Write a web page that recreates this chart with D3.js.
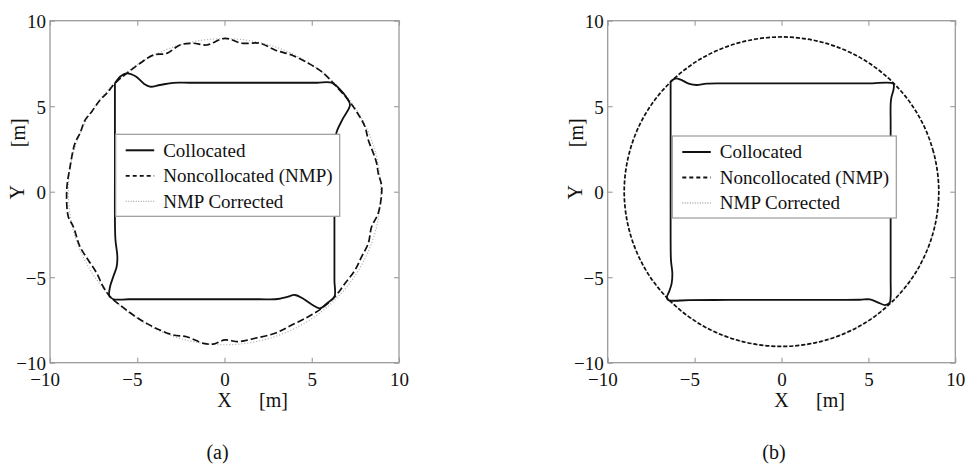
<!DOCTYPE html>
<html><head><meta charset="utf-8">
<script src="https://cdn.jsdelivr.net/npm/d3@7"></script>
<style>
body{margin:0;background:#fff}
svg text{font-family:"Liberation Serif","Times New Roman",Times,"DejaVu Serif",serif !important;fill:#111}
</style>
</head><body>
<svg id="c" width="966" height="464"></svg>
<script>
// ---- data ----
const xTicks = [-10, -5, 0, 5, 10];
const yTicks = [-10, -5, 0, 5, 10];
const legendLabels = ["Collocated", "Noncollocated (NMP)", "NMP Corrected"];
const panelLabels = ["(a)", "(b)"];

const collocatedA = [
  [-6.28,6.34],[-5.95,6.75],[-5.6,6.92],[-5.1,6.75],[-4.6,6.3],[-4.27,6.14],[-3.7,6.24],[-2.93,6.37],
  [-2.0,6.37],[0,6.37],[2.0,6.37],[4.0,6.37],[5.3,6.37],
  [6.14,6.37],[6.6,6.0],[7.0,5.5],[7.19,5.07],[6.8,4.3],[6.43,3.51],[6.30,2.8],[6.30,1.5],[6.30,-1.0],
  [6.30,-3.5],[6.30,-5.2],[6.30,-6.14],
  [5.9,-6.5],[5.47,-6.82],[5.0,-6.6],[4.5,-6.25],[4.04,-6.04],[3.6,-6.15],[3.28,-6.23],[2.89,-6.29],
  [2.0,-6.29],[0,-6.29],[-2.0,-6.29],[-4.0,-6.29],[-5.5,-6.29],
  [-6.37,-6.29],[-6.60,-6.10],[-6.56,-5.56],[-6.35,-4.9],[-6.18,-4.39],[-6.14,-3.80],[-6.25,-2.8],
  [-6.28,-1.5],[-6.28,1.0],[-6.28,3.5],[-6.28,5.3],[-6.28,6.34]
];
const noncollocatedA = [
  [0.03,8.97],[0.99,8.68],[2.03,8.68],[2.89,8.29],[3.85,7.99],[4.80,7.51],[5.57,7.02],[6.33,6.24],
  [7.09,5.36],[7.57,4.68],[8.05,3.80],[8.24,3.02],[8.53,2.25],[8.72,1.66],[8.81,1.08],[9.01,0.29],
  [8.81,-1.26],[8.43,-2.05],[8.24,-3.02],[7.86,-3.80],[7.48,-4.58],[6.91,-5.36],[6.33,-6.14],[5.57,-6.82],
  [4.80,-7.31],[3.85,-7.80],[2.89,-8.28],[1.75,-8.57],[0.79,-8.77],[0.03,-8.67],[-0.64,-8.91],[-1.21,-8.87],
  [-2.17,-8.48],[-2.93,-8.38],[-3.70,-8.09],[-4.46,-7.70],[-5.23,-7.21],[-5.99,-6.63],[-6.56,-6.14],[-6.95,-5.56],
  [-7.32,-4.77],[-7.81,-3.99],[-8.28,-3.22],[-8.66,-2.05],[-8.95,-1.46],[-9.04,0.10],[-8.85,1.46],[-8.57,2.83],
  [-8.28,3.42],[-7.99,4.19],[-7.61,4.68],[-7.13,5.36],[-6.75,5.75],[-6.28,6.34],[-5.6,6.92],[-4.84,7.51],
  [-4.08,7.99],[-3.31,8.09],[-2.55,8.58],[-1.79,8.68],[-1.02,8.58]
];
const correctedA = [
  [8.95,0],[8.65,2.32],[7.75,4.48],[6.33,6.33],[4.48,7.75],[2.32,8.65],[0,8.95],[-2.32,8.65],
  [-4.48,7.75],[-6.33,6.33],[-7.75,4.48],[-8.65,2.32],[-8.95,0],[-8.65,-2.32],[-7.75,-4.48],[-6.33,-6.33],
  [-4.48,-7.75],[-2.32,-8.65],[0,-8.95],[2.32,-8.65],[4.48,-7.75],[6.33,-6.33],[7.75,-4.48],[8.65,-2.32]
];

const collocatedB = [
  [-6.38,6.45],[-6.1,6.62],[-5.8,6.55],[-5.3,6.3],[-4.88,6.24],[-4.3,6.32],
  [-3.0,6.33],[-1.0,6.33],[1.0,6.33],[3.0,6.33],[5.0,6.33],
  [6.43,6.32],[6.45,6.0],[6.32,5.5],[6.28,5.1],[6.28,4.0],[6.28,1.5],[6.28,-1.0],[6.28,-3.5],[6.28,-5.2],
  [6.28,-6.14],[6.22,-6.5],[5.95,-6.63],[5.6,-6.5],[5.09,-6.30],[4.5,-6.32],
  [3.0,-6.33],[1.0,-6.33],[-1.0,-6.33],[-3.0,-6.33],[-5.3,-6.34],
  [-6.51,-6.34],[-6.6,-6.2],[-6.45,-5.8],[-6.32,-5.36],[-6.28,-4.78],[-6.36,-4.0],
  [-6.38,-2.5],[-6.38,0],[-6.38,2.5],[-6.38,5.2],[-6.38,6.45]
];
const noncollocatedB = [
  [9.05,0],[8.74,2.34],[7.84,4.53],[6.40,6.40],[4.53,7.84],[2.34,8.74],[0,9.05],[-2.34,8.74],
  [-4.53,7.84],[-6.40,6.40],[-7.84,4.53],[-8.74,2.34],[-9.05,0],[-8.74,-2.34],[-7.84,-4.53],[-6.40,-6.40],
  [-4.53,-7.84],[-2.34,-8.74],[0,-9.05],[2.34,-8.74],[4.53,-7.84],[6.40,-6.40],[7.84,-4.53],[8.74,-2.34]
];
const correctedB = [
  [9.04,0],[8.73,2.34],[7.83,4.52],[6.39,6.39],[4.52,7.83],[2.34,8.73],[0,9.04],[-2.34,8.73],
  [-4.52,7.83],[-6.39,6.39],[-7.83,4.52],[-8.73,2.34],[-9.04,0],[-8.73,-2.34],[-7.83,-4.52],[-6.39,-6.39],
  [-4.52,-7.83],[-2.34,-8.73],[0,-9.04],[2.34,-8.73],[4.52,-7.83],[6.39,-6.39],[7.83,-4.52],[8.73,-2.34]
];

// ---- drawing ----
const svg = d3.select("#c");
const FONT = '"Liberation Serif","Times New Roman",Times,"DejaVu Serif",serif';
const fmt = d => (d < 0 ? "\u2212" + Math.abs(d) : String(d));

function panel(cfg) {
  const g = svg.append("g").attr("font-family", FONT);
  const x = d3.scaleLinear().domain([-10, 10]).range([cfg.l, cfg.r]);
  const y = d3.scaleLinear().domain([-10, 10]).range([cfg.b, cfg.t]);
  const axisCol = "#9a9a9a";

  const styleAxis = sel => {
    sel.attr("font-family", FONT).attr("font-size", 19);
    sel.select(".domain").remove();
    sel.selectAll(".tick line").attr("stroke", axisCol).attr("stroke-width", 1.1);
    sel.selectAll("text").attr("font-size", 19).attr("fill", "#111").attr("font-family", FONT);
  };
  g.append("g").attr("transform", `translate(0,${cfg.b})`)
    .call(d3.axisBottom(x).tickValues(xTicks).tickSize(-5).tickPadding(10).tickFormat(fmt))
    .call(styleAxis)
    .call(s => s.selectAll("text").attr("dx", d => d < 0 ? "-0.28em" : 0));
  g.append("g").attr("transform", `translate(0,${cfg.t})`)
    .call(d3.axisTop(x).tickValues(xTicks).tickSize(-5).tickFormat(""))
    .call(styleAxis);
  g.append("g").attr("transform", `translate(${cfg.l},0)`)
    .call(d3.axisLeft(y).tickValues(yTicks).tickSize(-5).tickPadding(4).tickFormat(fmt))
    .call(styleAxis)
    .call(s => s.selectAll("text").attr("dy", "0.36em"));
  g.append("g").attr("transform", `translate(${cfg.r},0)`)
    .call(d3.axisRight(y).tickValues(yTicks).tickSize(-5).tickFormat(""))
    .call(styleAxis);

  g.append("rect").attr("x", cfg.l).attr("y", cfg.t)
    .attr("width", cfg.r - cfg.l).attr("height", cfg.b - cfg.t)
    .attr("fill", "none").attr("stroke", axisCol).attr("stroke-width", 1.3);

  const lineOpen = d3.line().x(d => x(d[0])).y(d => y(d[1])).curve(d3.curveCatmullRom.alpha(0.5));
  const lineClosed = d3.line().x(d => x(d[0])).y(d => y(d[1])).curve(d3.curveCatmullRomClosed.alpha(0.5));

  g.append("path").attr("d", lineClosed(cfg.corr)).attr("fill", "none")
    .attr("stroke", "#aaa").attr("stroke-width", 1.2).attr("stroke-dasharray", "1,2");
  g.append("path").attr("d", lineClosed(cfg.non)).attr("fill", "none")
    .attr("stroke", "#111").attr("stroke-width", 1.7).attr("stroke-dasharray", cfg.dash);
  g.append("path").attr("d", lineOpen(cfg.col)).attr("fill", "none")
    .attr("stroke", "#111").attr("stroke-width", 1.8).attr("stroke-linejoin", "round");

  // legend
  const lg = g.append("g").attr("transform", `translate(${cfg.lgx},${cfg.lgy})`);
  lg.append("rect").attr("width", 224).attr("height", 82)
    .attr("fill", "#fff").attr("stroke", axisCol).attr("stroke-width", 1.2);
  const rows = [
    {stroke: "#111", dash: null, w: 2},
    {stroke: "#111", dash: "4,3", w: 1.8},
    {stroke: "#aaa", dash: "1,1.5", w: 1.3}
  ];
  rows.forEach((r, i) => {
    const ry = 16 + i * 25.5;
    lg.append("line").attr("x1", 10).attr("x2", 38.5).attr("y1", ry).attr("y2", ry)
      .attr("stroke", r.stroke).attr("stroke-width", r.w).attr("stroke-dasharray", r.dash);
    lg.append("text").attr("x", 47.5).attr("y", ry).attr("dy", "0.33em")
      .attr("font-size", 19).attr("font-family", FONT).text(legendLabels[i]);
  });

  // axis labels
  g.append("text").attr("transform", `translate(${cfg.l - 33},${(cfg.t + cfg.b) / 2 + 0.5}) rotate(-90)`)
    .attr("text-anchor", "middle").attr("dy", "0.35em").attr("font-size", 20).text("Y");
  g.append("text").attr("transform", `translate(${cfg.l - 32},${cfg.t + 112}) rotate(-90)`)
    .attr("text-anchor", "middle").attr("dy", "0.35em").attr("font-size", 20).text("[m]");
  g.append("text").attr("x", x(0)).attr("y", 399.5).attr("dy", "0.35em")
    .attr("text-anchor", "middle").attr("font-size", 20).text("X");
  g.append("text").attr("x", x(0) + 49).attr("y", 399.5).attr("dy", "0.35em")
    .attr("text-anchor", "middle").attr("font-size", 20).text("[m]");

  g.append("text").attr("x", cfg.capx).attr("y", 452).attr("dy", "0.35em")
    .attr("text-anchor", "middle").attr("font-size", 20).text(cfg.cap);
}

panel({l: 50, r: 399, t: 20.7, b: 362.7, col: collocatedA, non: noncollocatedA, corr: correctedA,
  dash: "7,3", lgx: 115.7, lgy: 134.3, capx: 217.5, cap: panelLabels[0]});
panel({l: 607.7, r: 955.3, t: 20.7, b: 362.7, col: collocatedB, non: noncollocatedB, corr: correctedB,
  dash: "4,2", lgx: 672.3, lgy: 136, capx: 774, cap: panelLabels[1]});
</script>
</body></html>
